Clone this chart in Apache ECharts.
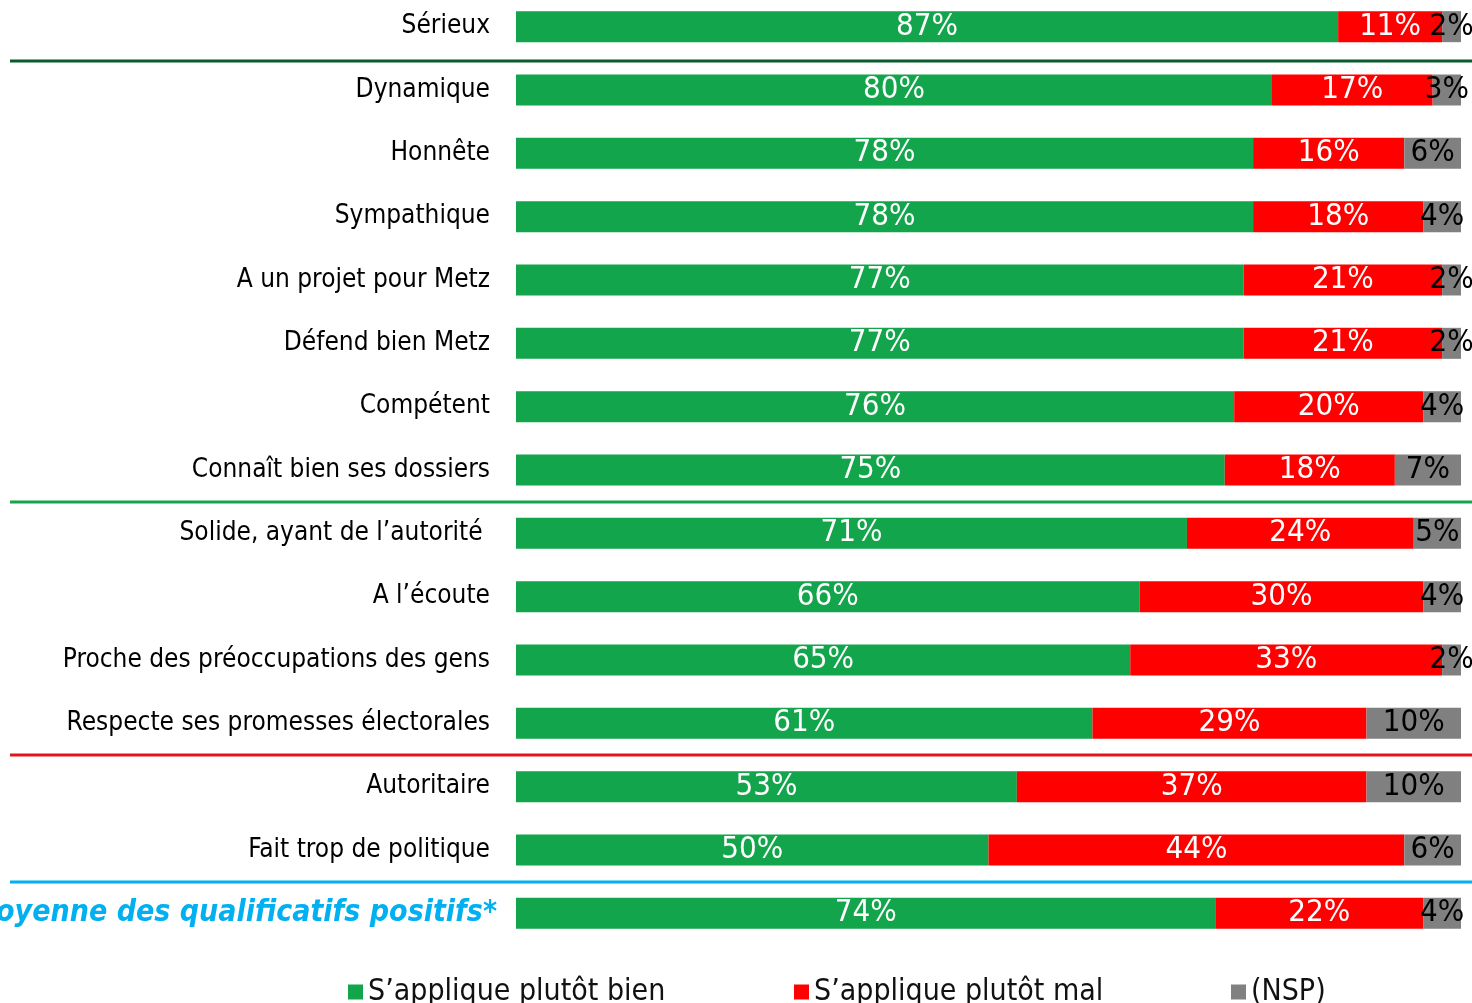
<!DOCTYPE html>
<html>
<head>
<meta charset="utf-8">
<script src="https://cdn.jsdelivr.net/npm/echarts@6/dist/echarts.min.js"></script>
<style>
  html, body { margin: 0; padding: 0; background: #fff; overflow: hidden; }
  #main { position: absolute; left: 0; top: -5px; width: 1472px; height: 1008px; }
</style>
</head>
<body>
<div id="main"></div>
<script>
// données
const categories = [
    'Sérieux', 'Dynamique', 'Honnête', 'Sympathique', 'A un projet pour Metz',
    'Défend bien Metz', 'Compétent', 'Connaît bien ses dossiers',
    'Solide, ayant de l\u2019autorité ', 'A l\u2019écoute',
    'Proche des préoccupations des gens', 'Respecte ses promesses électorales',
    'Autoritaire', 'Fait trop de politique', 'Moyenne des qualificatifs positifs*'
];
const bien = [87, 80, 78, 78, 77, 77, 76, 75, 71, 66, 65, 61, 53, 50, 74];
const mal = [11, 17, 16, 18, 21, 21, 20, 18, 24, 30, 33, 29, 37, 44, 22];
const nsp = [2, 3, 6, 4, 2, 2, 4, 7, 5, 4, 2, 10, 10, 6, 4];
const seriesNames = ['S\u2019applique plutôt bien', 'S\u2019applique plutôt mal', '(NSP)'];
const colors = ['#12a54b', '#ff0000', '#808080'];
// séparateurs : après quel index, couleur
const separators = [[0, '#0b5a2c'], [7, '#12a54b'], [11, '#e0161c'], [13, '#00b0f0']];

const valueFont = '"Liberation Sans Narrow", "DejaVu Sans Condensed", sans-serif';
const labelFont = '"DejaVu Sans Condensed", "DejaVu Sans", sans-serif';

let chart = echarts.init(document.getElementById('main'));

function makeSeries (name, data, color, labelColor) {
    return {
        name: name,
        type: 'bar',
        stack: 'total',
        barWidth: 31,
        data: data,
        itemStyle: { color: color },
        label: {
            show: true,
            position: 'inside',
            formatter: '{c}%',
            color: labelColor,
            fontFamily: valueFont,
            fontSize: 31
        }
    };
}

function legendFor (name, left) {
    return {
        data: [name],
        left: left,
        top: 982,
        icon: 'rect',
        itemWidth: 15,
        itemHeight: 15,
        itemGap: 4,
        padding: 0,
        textStyle: { fontFamily: valueFont, fontSize: 30, color: '#111' }
    };
}

chart.setOption({
    animation: false,
    color: colors,
    grid: { left: 516, right: 11, top: 0, bottom: 58, containLabel: false, outerBoundsMode: 'none' },
    legend: [
        legendFor(seriesNames[0], 348),
        legendFor(seriesNames[1], 794),
        legendFor(seriesNames[2], 1231)
    ],
    xAxis: {
        type: 'value',
        min: 0,
        max: 100,
        show: false
    },
    yAxis: {
        type: 'category',
        inverse: true,
        data: categories,
        axisLine: { show: false },
        axisTick: { show: false },
        axisLabel: {
            margin: 26,
            fontFamily: labelFont,
            fontSize: 26,
            color: '#000',
            formatter: function (v, i) {
                if (i === categories.length - 1) return '{moy|' + v + '}';
                return v;
            },
            rich: {
                moy: {
                    color: '#00b0f0',
                    fontStyle: 'italic',
                    fontWeight: 'bold',
                    fontSize: 30,
                    fontFamily: labelFont,
                    padding: [0, -7, 0, 0]
                }
            }
        }
    },
    series: [
        makeSeries(seriesNames[0], bien, colors[0], '#fff'),
        makeSeries(seriesNames[1], mal, colors[1], '#fff'),
        makeSeries(seriesNames[2], nsp, colors[2], '#000')
    ]
});

// lignes de séparation entre groupes
let lines = separators.map(function (s) {
    let y0 = chart.convertToPixel({ yAxisIndex: 0 }, s[0]);
    let y1 = chart.convertToPixel({ yAxisIndex: 0 }, s[0] + 1);
    let y = Math.round((y0 + y1) / 2) + (s[0] === 0 ? 3 : 0);
    return {
        type: 'line',
        shape: { x1: 10, y1: y, x2: 1472, y2: y },
        style: { stroke: s[1], lineWidth: 3 }
    };
});
chart.setOption({ graphic: lines });
</script>
</body>
</html>
